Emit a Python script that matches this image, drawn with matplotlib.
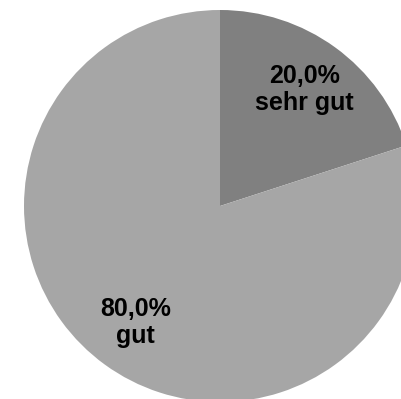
import matplotlib
matplotlib.use("Agg")
import matplotlib.pyplot as plt

# survey answers
labels = ["sehr gut", "gut"]
shares = [20.0, 80.0]
colors = ["#808080", "#a6a6a6"]

plt.rcParams['font.family'] = ['Liberation Sans', 'DejaVu Sans']

fig = plt.figure(figsize=(4.01, 3.99), dpi=100)
ax = fig.add_axes([0, 0, 1, 1])

label_iter = iter(labels)


def fmt(pct):
    # german decimal comma, category below the percentage
    return f"{pct:.1f}".replace(".", ",") + "%\n" + next(label_iter)


wedges, texts, autotexts = ax.pie(
    shares, colors=colors, startangle=90, counterclock=False,
    autopct=fmt, pctdistance=0.735,
    wedgeprops=dict(linewidth=0),
    textprops=dict(fontsize=18, fontweight='bold', color='black',
                   linespacing=1.15),
)

# pie centre sits left of the middle, bottom and right edge are clipped
ax.set_aspect('auto')
ax.set_xlim(-220 / 196, 181 / 196)
ax.set_ylim(-193 / 196, 206 / 196)
ax.axis('off')

fig.savefig("out.png", dpi=100)
